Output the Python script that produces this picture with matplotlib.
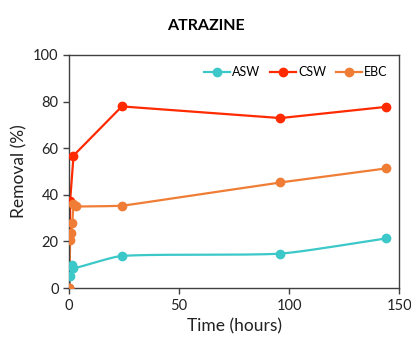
import matplotlib.pyplot as plt
import numpy as np

plt.rcParams['font.family'] = ['Lato', 'DejaVu Sans']

# sampling times (hours) and removal (%)
asw_t = [0, 0.5, 1.5, 2, 24, 96, 144]
asw_y = [0, 5, 10, 8.5, 13.8, 14.8, 21.3]
csw_t = [0, 0.5, 2, 24, 96, 144]
csw_y = [0, 37.5, 56.8, 77.9, 72.9, 77.7]
ebc_t = [0, 0.5, 1, 1.5, 2, 3, 24, 96, 144]
ebc_y = [0, 20.8, 23.6, 28, 36, 35, 35.3, 45.3, 51.3]


def smooth(t, y, k=0.7, n=40):
    # smoothed line: cubic bezier segments, tangent length scaled by segment length
    p = np.column_stack([np.array(t) / 150.0, np.array(y) / 100.0 * 0.7])
    xs, ys = [], []

    def tangent(i):
        a = p[max(i - 1, 0)]
        b = p[min(i + 1, len(p) - 1)]
        d = b - a
        nrm = np.hypot(*d)
        return d / nrm if nrm > 0 else d

    for i in range(len(p) - 1):
        p1, p2 = p[i], p[i + 1]
        L = np.hypot(*(p2 - p1))
        c1 = p1 + tangent(i) * L / 3.0 * k
        c2 = p2 - tangent(i + 1) * L / 3.0 * k
        s = np.linspace(0, 1, n)[:, None]
        b = (1 - s) ** 3 * p1 + 3 * (1 - s) ** 2 * s * c1 + 3 * (1 - s) * s ** 2 * c2 + s ** 3 * p2
        xs.append(b[:, 0])
        ys.append(b[:, 1])
    return np.concatenate(xs) * 150.0, np.concatenate(ys) / 0.7 * 100.0


fig = plt.figure(figsize=(4.11, 3.43), dpi=100)
ax = fig.add_axes([0.168, 0.160, 0.803, 0.680])

series = [('ASW', asw_t, asw_y, '#3CC8C8', 0.6),
          ('CSW', csw_t, csw_y, '#FF2A00', 0.0),
          ('EBC', ebc_t, ebc_y, '#F07D35', 0.15)]
for name, t, y, c, k in series:
    sx, sy = smooth(t, y, k=k)
    ax.plot(sx, sy, '-', color=c, lw=1.6, zorder=2)
    ax.plot(t, y, 'o', color=c, ms=6, zorder=3)
    ax.plot([], [], '-o', color=c, lw=1.6, ms=6, label=name)

ax.set_xlim(0, 150)
ax.set_ylim(0, 100)
ax.set_xticks([0, 50, 100, 150])
ax.set_yticks([0, 20, 40, 60, 80, 100])
ax.tick_params(labelsize=10.5, length=4, width=1, color='#404040', labelcolor='#222222')
for sp in ax.spines.values():
    sp.set_color('#404040')
    sp.set_linewidth(1)

ax.set_xlabel('Time (hours)', fontsize=12.5, color='#222222')
ax.set_ylabel('Removal (%)', fontsize=12.5, color='#222222')
fig.text(0.5, 0.925, 'ATRAZINE', ha='center', va='center', fontsize=11.5, fontweight='bold')

ax.legend(loc='upper right', ncol=3, frameon=False, fontsize=9, handlelength=2.1,
          columnspacing=0.8, handletextpad=0.15, bbox_to_anchor=(1.0, 1.0))

fig.savefig('out.png', dpi=100)
